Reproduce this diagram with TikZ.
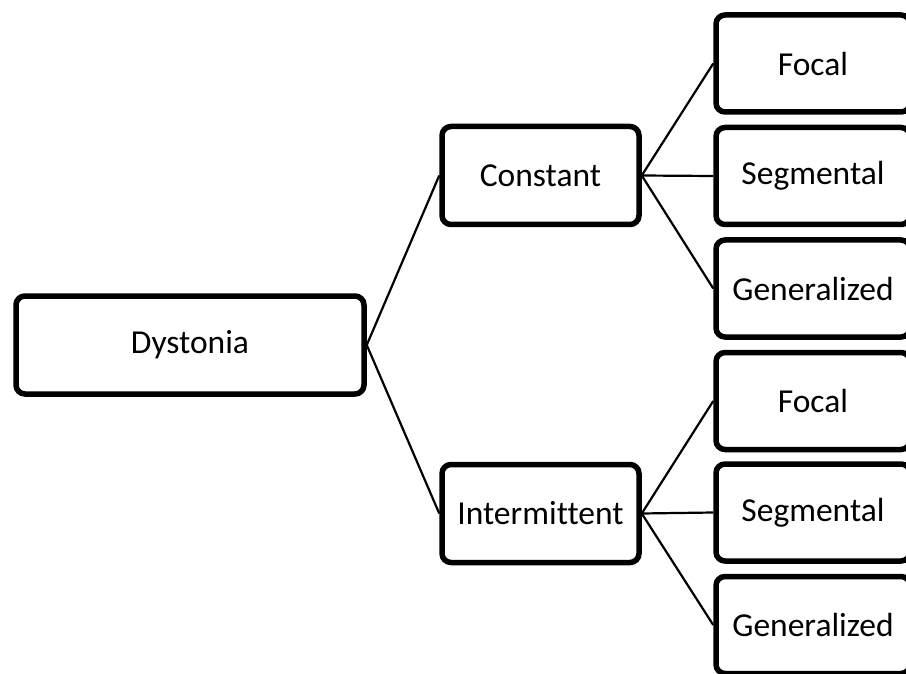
\documentclass[tikz,border=0pt]{standalone}
\usepackage{fontspec}
\setmainfont{Carlito}[Ligatures=NoCommon]
\begin{document}
\begin{tikzpicture}[x=1pt,y=-1pt,
  box/.style={draw=black, line width=5.5pt, rounded corners=9pt, fill=white,
    inner sep=0pt, font=\fontsize{33.5}{38}\selectfont},
  leaf/.style={box, minimum width=194pt, minimum height=97pt},
  mid/.style={box, minimum width=197pt, minimum height=98pt},
  link/.style={line width=2.2pt}]
\useasboundingbox (0,0) rectangle (906,674);
\node[box, minimum width=348pt, minimum height=98pt] (dys) at (190,345) {Dystonia};
\node[mid] (con) at (540.5,175.5) {Constant};
\node[mid] (int) at (540.5,513.5) {Intermittent};
\node[leaf] (f1) at (813,63.5) {Focal};
\node[leaf] (s1) at (813,176) {Segmental};
\node[leaf] (g1) at (813,288.5) {Generalized};
\node[leaf] (f2) at (813,401) {Focal};
\node[leaf] (s2) at (813,512.5) {Segmental};
\node[leaf] (g2) at (813,625) {Generalized};
\draw[link] (dys.east) -- (con.west);
\draw[link] (dys.east) -- (int.west);
\draw[link] (con.east) -- (f1.west);
\draw[link] (con.east) -- (s1.west);
\draw[link] (con.east) -- (g1.west);
\draw[link] (int.east) -- (f2.west);
\draw[link] (int.east) -- (s2.west);
\draw[link] (int.east) -- (g2.west);
\end{tikzpicture}
\end{document}
